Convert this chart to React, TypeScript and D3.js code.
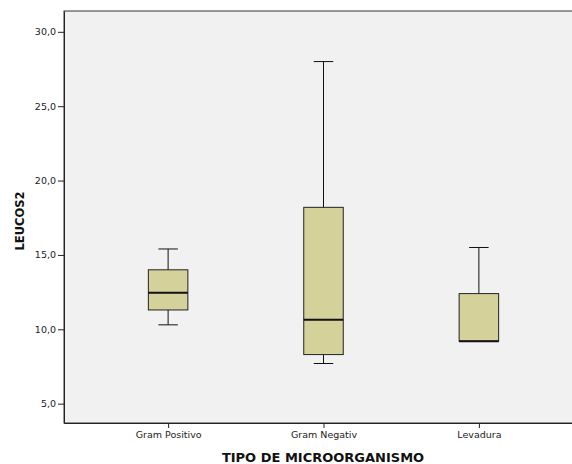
import React, { useRef, useEffect } from 'react';
import * as d3 from 'd3';

// values
const categories = ['Gram Positivo', 'Gram Negativ', 'Levadura'];
const whiskerLow = [10.3, 7.7, 9.2];
const q1Values = [11.3, 8.3, 9.2];
const medians = [12.45, 10.65, 9.2];
const q3Values = [14.0, 18.2, 12.4];
const whiskerHigh = [15.4, 28.0, 15.5];
const yTicks = [5, 10, 15, 20, 25, 30];

const W = 572;
const H = 464;

export default function App() {
  const svgRef = useRef<SVGSVGElement>(null);

  useEffect(() => {
    const svg = d3.select(svgRef.current);
    svg.selectAll('*').remove();

    const left = 64, top = 11, bottom = 423, right = 583;

    const x = d3.scalePoint<string>().domain(categories).range([left, right]).padding(0.67);
    const y = d3.scaleLinear().domain([3.7, 31.4]).range([bottom, top]);

    // plot background
    svg.append('rect')
      .attr('x', left).attr('y', top)
      .attr('width', right - left).attr('height', bottom - top)
      .attr('fill', '#f1f1f1')
      .attr('stroke', '#333').attr('stroke-width', 1);

    const yAxis = d3.axisLeft(y).tickValues(yTicks).tickSize(6).tickSizeOuter(0).tickPadding(2)
      .tickFormat(d => d3.format('.1f')(d as number).replace('.', ','));
    const ga = svg.append('g').attr('transform', `translate(${left},0)`).call(yAxis);
    ga.select('.domain').attr('stroke', '#222');
    ga.selectAll('.tick line').attr('stroke', '#222');
    ga.selectAll('.tick text')
      .attr('font-family', 'DejaVu Sans').attr('font-size', 9.5).attr('fill', '#222');

    const xAxis = d3.axisBottom(x).tickSize(5).tickSizeOuter(0).tickPadding(3);
    const gx = svg.append('g').attr('transform', `translate(0,${bottom})`).call(xAxis);
    gx.select('.domain').attr('stroke', '#222');
    gx.selectAll('.tick line').attr('stroke', '#222');
    gx.selectAll('.tick text')
      .attr('font-family', 'DejaVu Sans').attr('font-size', 9.5).attr('fill', '#222');

    const boxW = 39.5;
    const capW = 19.5;
    const data = categories.map((c, i) => ({
      c, lo: whiskerLow[i], q1: q1Values[i], med: medians[i], q3: q3Values[i], hi: whiskerHigh[i],
    }));

    const g = svg.append('g').selectAll('g').data(data).join('g')
      .attr('transform', d => `translate(${x(d.c)},0)`);

    g.append('line')
      .attr('x1', 0).attr('x2', 0)
      .attr('y1', d => y(d.hi)).attr('y2', d => y(d.q3))
      .attr('stroke', '#111');
    g.append('line')
      .attr('x1', 0).attr('x2', 0)
      .attr('y1', d => y(d.q1)).attr('y2', d => y(d.lo))
      .attr('stroke', '#111');
    g.append('line')
      .attr('x1', -capW / 2).attr('x2', capW / 2)
      .attr('y1', d => y(d.hi)).attr('y2', d => y(d.hi))
      .attr('stroke', '#111');
    g.filter(d => d.lo < d.q1).append('line')
      .attr('x1', -capW / 2).attr('x2', capW / 2)
      .attr('y1', d => y(d.lo)).attr('y2', d => y(d.lo))
      .attr('stroke', '#111');
    g.append('rect')
      .attr('x', -boxW / 2).attr('width', boxW)
      .attr('y', d => y(d.q3)).attr('height', d => y(d.q1) - y(d.q3))
      .attr('fill', '#d5d19b').attr('stroke', '#222').attr('stroke-width', 1);
    g.append('line')
      .attr('x1', -boxW / 2).attr('x2', boxW / 2)
      .attr('y1', d => y(d.med)).attr('y2', d => y(d.med))
      .attr('stroke', '#111').attr('stroke-width', 2);

    svg.append('text')
      .attr('x', 323).attr('y', 462)
      .attr('text-anchor', 'middle')
      .attr('font-family', 'DejaVu Sans').attr('font-weight', 'bold').attr('font-size', 13)
      .attr('fill', '#111')
      .text('TIPO DE MICROORGANISMO');

    svg.append('text')
      .attr('transform', `translate(24,${(top + bottom) / 2 + 4}) rotate(-90)`)
      .attr('text-anchor', 'middle')
      .attr('font-family', 'DejaVu Sans').attr('font-weight', 'bold').attr('font-size', 11.5)
      .attr('fill', '#111')
      .text('LEUCOS2');
  }, []);

  return (
    <svg ref={svgRef} width={W} height={H}
      style={{ position: 'absolute', left: 0, top: 0, background: '#fff' }} />
  );
}
